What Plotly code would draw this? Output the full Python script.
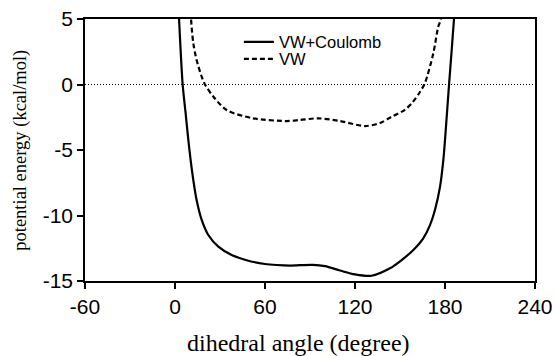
import plotly.graph_objects as go

# Data
angle_total = [1.5, 2.7, 5.1, 7.0, 8.9, 10.4, 12.2, 14.4, 17.8, 22.2, 28.9, 37.8, 48.9, 60.0,
               67.8, 76.7, 92.0, 100.0, 110.0, 120.0, 131.0, 143.3, 151.1, 158.9, 165.5,
               170.0, 173.3, 176.7, 178.9, 180.0, 182.7, 186.0, 187.5]
energy_total = [8.0, 5.0, 0.0, -2.1, -4.24, -5.76, -7.29, -8.82, -10.34, -11.49, -12.38, -13.02,
                -13.45, -13.7, -13.78, -13.82, -13.77, -13.87, -14.2, -14.5, -14.6, -14.03, -13.4,
                -12.63, -11.74, -10.73, -9.58, -7.8, -5.76, -4.24, 0.0, 5.0, 8.0]

angle_vw = [9.8, 10.7, 12.2, 14.4, 17.8, 20.0, 25.6, 34.4, 52.0, 74.4, 83.3, 95.3, 110.0,
            126.7, 136.7, 144.4, 153.0, 157.8, 163.3, 166.7, 172.2, 175.5, 177.3, 178.2]
energy_vw = [8.0, 5.0, 3.15, 1.87, 0.6, 0.0, -0.93, -1.95, -2.58, -2.79, -2.71, -2.58, -2.79,
             -3.17, -2.94, -2.46, -1.95, -1.44, -0.57, 0.14, 2.38, 4.41, 5.0, 8.0]

zero_x = [-60, 240]
zero_y = [0, 0]

x_ticks = [-60, 0, 60, 120, 180, 240]
x_ticktext = ["-60", "0", "60", "120", "180", "240"]
y_ticks = [-15, -10, -5, 0, 5]
y_ticktext = ["-15", "-10", "-5", "0", "5"]

fig = go.Figure()
fig.add_trace(go.Scatter(x=zero_x, y=zero_y, mode="lines", showlegend=False,
                         line=dict(color="black", width=1.2, dash="1px,2px"), hoverinfo="skip"))
fig.add_trace(go.Scatter(x=angle_total, y=energy_total, mode="lines", name="VW+Coulomb",
                         legend="legend",
                         line=dict(color="black", width=2.2, shape="spline", smoothing=0.8)))
fig.add_trace(go.Scatter(x=angle_vw, y=energy_vw, mode="lines", name="VW",
                         legend="legend2",
                         line=dict(color="black", width=2.2, dash="5px,3px", shape="spline", smoothing=0.8)))

tick_font = dict(family="Liberation Sans, Arial, sans-serif", size=21, color="black")
axis_common = dict(showgrid=False, zeroline=False, showline=True, linecolor="black", linewidth=1.5,
                   mirror=True, ticks="outside", ticklen=6, tickwidth=1.5, tickcolor="black",
                   tickfont=tick_font, automargin=False)

fig.update_xaxes(range=[-60, 240], tickvals=x_ticks, ticktext=x_ticktext, **axis_common)
fig.update_yaxes(range=[-15, 5], tickvals=y_ticks, ticktext=y_ticktext, ticklabelstandoff=0, **axis_common)

legend_font = dict(family="Liberation Sans, Arial, sans-serif", size=16.5, color="black")
fig.update_layout(
    width=555, height=356,
    margin=dict(l=85, r=20, t=19, b=75, autoexpand=False),
    paper_bgcolor="white", plot_bgcolor="white",
    showlegend=True,
    legend=dict(x=0.342, y=0.912, xanchor="left", yanchor="middle", bgcolor="rgba(0,0,0,0)",
                borderwidth=0, font=legend_font),
    legend2=dict(x=0.342, y=0.847, xanchor="left", yanchor="middle", bgcolor="rgba(0,0,0,0)",
                 borderwidth=0, font=legend_font),
    annotations=[
        dict(text="dihedral angle (degree)", xref="paper", yref="paper", x=0.475, y=-0.235,
             xanchor="center", yanchor="middle", showarrow=False,
             font=dict(family="Liberation Serif, serif", size=24, color="black")),
        dict(text="potential energy (kcal/mol)", xref="paper", yref="paper", x=-0.145, y=0.5,
             xanchor="center", yanchor="middle", textangle=-90, showarrow=False,
             font=dict(family="Liberation Serif, serif", size=18.5, color="black")),
    ],
)

fig.write_html("out.html")
